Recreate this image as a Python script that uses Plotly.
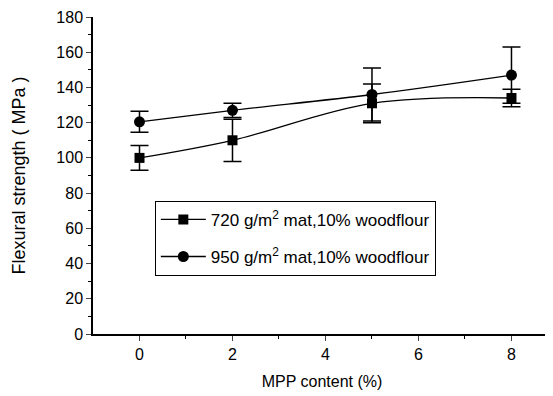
import plotly.graph_objects as go

x_vals = [0, 2, 5, 8]
s720 = [100, 110, 131, 134]
e720 = [7, 12, 11, 5]
s950 = [120.5, 127, 136, 147]
e950 = [6, 4, 15, 16]
name720 = "720 g/m<sup>2</sup> mat,10% woodflour"
name950 = "950 g/m<sup>2</sup> mat,10% woodflour"

fig = go.Figure()
fig.add_trace(go.Scatter(
    x=x_vals, y=s720, name=name720, mode="lines+markers", legendgroup="a",
    line=dict(color="black", width=1.3, shape="spline"),
    marker=dict(symbol="square", size=10, color="black"),
    error_y=dict(type="data", array=e720, visible=True, color="black", thickness=1.5, width=9),
))
fig.add_trace(go.Scatter(
    x=x_vals, y=s950, name=name950, mode="lines+markers", legendgroup="b",
    line=dict(color="black", width=1.3, shape="spline"),
    marker=dict(symbol="circle", size=11, color="black"),
    error_y=dict(type="data", array=e950, visible=True, color="black", thickness=1.5, width=9),
))

fam = "Liberation Sans, Arial, sans-serif"
fig.update_layout(
    width=545, height=388,
    margin=dict(l=85, r=2, t=9, b=62),
    paper_bgcolor="white", plot_bgcolor="white",
    font=dict(family=fam, size=16, color="black"),
    showlegend=True,
    legend=dict(x=0.135, y=0.42, xanchor="left", yanchor="top",
                bordercolor="black", borderwidth=1, bgcolor="white",
                font=dict(family=fam, size=17, color="black"),
                tracegroupgap=12, itemwidth=45),
    xaxis=dict(range=[-1, 8.85], tickvals=[0, 2, 4, 6, 8], ticks="outside", ticklen=5,
               showline=True, linecolor="black", linewidth=1.5, showgrid=False, zeroline=False,
               tickfont=dict(family=fam, size=16, color="black"),
               title=dict(text="MPP content (%)", standoff=14,
                          font=dict(family=fam, size=16, color="black")),
               minor=dict(tickvals=[1, 3, 5, 7], ticks="outside", ticklen=3, tickcolor="black")),
    yaxis=dict(range=[0, 180], dtick=20, ticks="outside", ticklen=5,
               showline=True, linecolor="black", linewidth=1.5, showgrid=False, zeroline=False,
               tickfont=dict(family=fam, size=16, color="black"),
               title=dict(text="Flexural strength ( MPa )", standoff=26,
                          font=dict(family=fam, size=18, color="black")),
               minor=dict(dtick=10, ticks="outside", ticklen=3, tickcolor="black")),
)
fig.write_html("out.html")
